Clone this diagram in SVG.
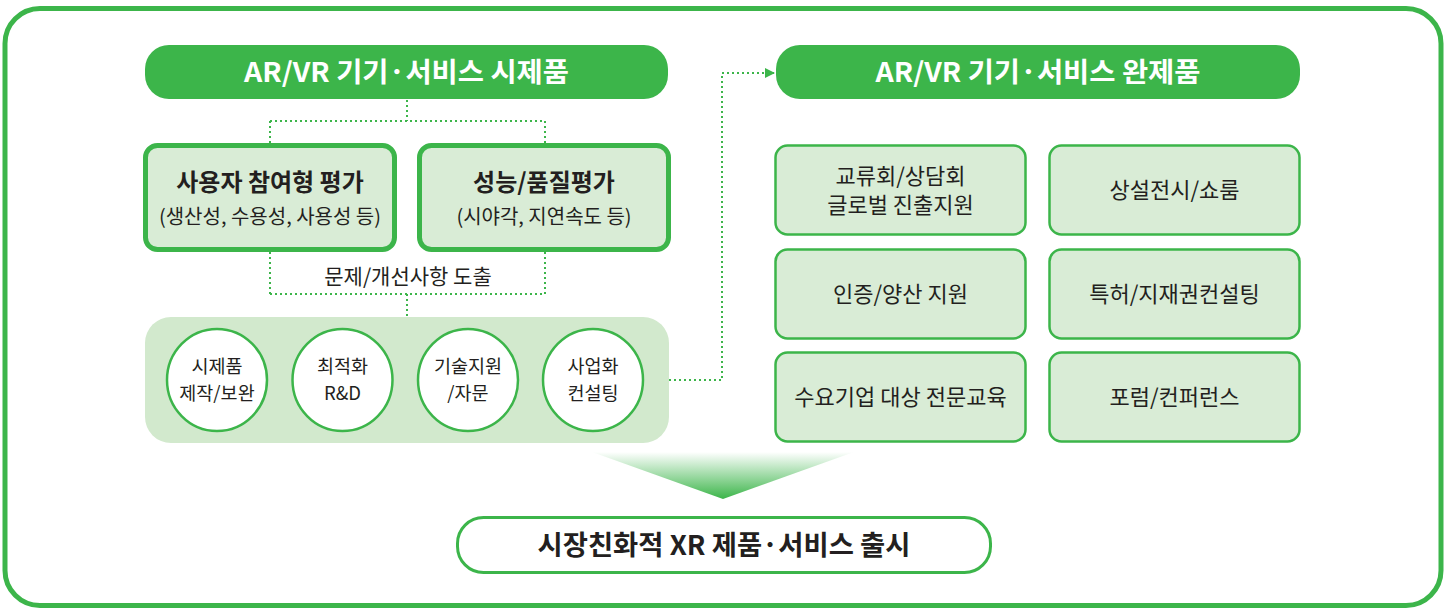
<svg xmlns="http://www.w3.org/2000/svg" width="1448" height="610" viewBox="0 0 1448 610">
<style>
text{font-family:"Noto Sans CJK KR","Noto Sans",sans-serif;text-anchor:middle;fill:#231f20}
.hdr{fill:#3cb54a}
.hdrt{fill:#fff;font-weight:700;font-size:27px}
.bigbox{fill:#d9ecd6;stroke:#3cb54a;stroke-width:5}
.box{fill:#d9ecd6;stroke:#3cb54a;stroke-width:2.5}
.circ{fill:#fff;stroke:#3cb54a;stroke-width:2.5}
.t1{font-weight:700;font-size:24px}
.t2{font-size:20px}
.t3{font-size:21px}
.t4{font-size:22px}
.tc{font-size:18.5px}
.dot{fill:none;stroke:#3cb54a;stroke-width:2;stroke-dasharray:2 3}
</style>
<defs>
<linearGradient id="g" x1="0" y1="0" x2="0" y2="1">
<stop offset="0" stop-color="#3cb54a" stop-opacity="0"/>
<stop offset="1" stop-color="#3cb54a"/>
</linearGradient>
<marker id="arr" markerWidth="10" markerHeight="10" refX="9" refY="5" orient="auto" markerUnits="userSpaceOnUse">
<path d="M0,0 L10,5 L0,10 Z" fill="#3cb54a"/>
</marker>
</defs>
<rect x="5" y="8.5" width="1436" height="597" rx="35" fill="#fff" stroke="#3cb54a" stroke-width="5"/>
<g id="connectors">
<path class="dot" d="M407,100 V121 M270,121 H545 M270,121 V143 M545,121 V143"/>
<path class="dot" d="M270,252 V294 M545,252 V294 M270,294 H545 M407,294 V317"/>
<path class="dot" d="M669,380 H722 V73 H774" marker-end="url(#arr)"/>
</g>
<g id="prototype-header">
<rect class="hdr" x="145" y="45" width="523" height="54" rx="24"/>
<text class="hdrt" x="406.5" y="82" textLength="325" lengthAdjust="spacingAndGlyphs">AR/VR 기기·서비스 시제품</text>
</g>
<g id="user-eval">
<rect class="bigbox" x="145.5" y="145.5" width="249" height="104" rx="12"/>
<text class="t1" x="270" y="191">사용자 참여형 평가</text>
<text class="t2" x="270" y="224">(생산성, 수용성, 사용성 등)</text>
</g>
<g id="perf-eval">
<rect class="bigbox" x="419.5" y="145.5" width="249" height="104" rx="12"/>
<text class="t1" x="544" y="191">성능/품질평가</text>
<text class="t2" x="544" y="224">(시야각, 지연속도 등)</text>
</g>
<g id="issue-label">
<text class="t3" x="408" y="284">문제/개선사항 도출</text>
</g>
<g id="support-panel">
<rect x="145" y="317" width="524" height="126" rx="26" fill="#d2e9cd"/>
</g>
<g id="c1">
<ellipse class="circ" cx="217" cy="380" rx="50" ry="51"/>
<text class="tc" x="217" y="373">시제품</text>
<text class="tc" x="217" y="400">제작/보완</text>
</g>
<g id="c2">
<ellipse class="circ" cx="342.5" cy="380" rx="50" ry="51"/>
<text class="tc" x="342.5" y="373">최적화</text>
<text class="tc" x="342.5" y="400">R&amp;D</text>
</g>
<g id="c3">
<ellipse class="circ" cx="468" cy="380" rx="50" ry="51"/>
<text class="tc" x="468" y="373">기술지원</text>
<text class="tc" x="468" y="400">/자문</text>
</g>
<g id="c4">
<ellipse class="circ" cx="593" cy="380" rx="50" ry="51"/>
<text class="tc" x="593" y="373">사업화</text>
<text class="tc" x="593" y="400">컨설팅</text>
</g>
<g id="final-header">
<rect class="hdr" x="776" y="45" width="524" height="54" rx="24"/>
<text class="hdrt" x="1038" y="82" textLength="325" lengthAdjust="spacingAndGlyphs">AR/VR 기기·서비스 완제품</text>
</g>
<g id="r1">
<rect class="box" x="775.5" y="145.5" width="250" height="89" rx="12"/>
<text class="t4" x="900.5" y="184">교류회/상담회</text>
<text class="t4" x="900.5" y="213">글로벌 진출지원</text>
</g>
<g id="r2">
<rect class="box" x="1049.5" y="145.5" width="250" height="89" rx="12"/>
<text class="t4" x="1174.5" y="198">상설전시/쇼룸</text>
</g>
<g id="r3">
<rect class="box" x="775.5" y="249.5" width="250" height="89" rx="12"/>
<text class="t4" x="900.5" y="302">인증/양산 지원</text>
</g>
<g id="r4">
<rect class="box" x="1049.5" y="249.5" width="250" height="89" rx="12"/>
<text class="t4" x="1174.5" y="302">특허/지재권컨설팅</text>
</g>
<g id="r5">
<rect class="box" x="775.5" y="352.5" width="250" height="89" rx="12"/>
<text class="t4" x="900.5" y="405">수요기업 대상 전문교육</text>
</g>
<g id="r6">
<rect class="box" x="1049.5" y="352.5" width="250" height="89" rx="12"/>
<text class="t4" x="1174.5" y="405">포럼/컨퍼런스</text>
</g>
<g id="down-arrow">
<path d="M592,452 L854,452 L723,499 Z" fill="url(#g)"/>
</g>
<g id="launch">
<rect x="457.5" y="517.5" width="533" height="55" rx="26" fill="#fff" stroke="#3cb54a" stroke-width="3"/>
<text x="724" y="555" style="font-weight:700;font-size:27px" textLength="373" lengthAdjust="spacingAndGlyphs">시장친화적 XR 제품·서비스 출시</text>
</g>
</svg>
